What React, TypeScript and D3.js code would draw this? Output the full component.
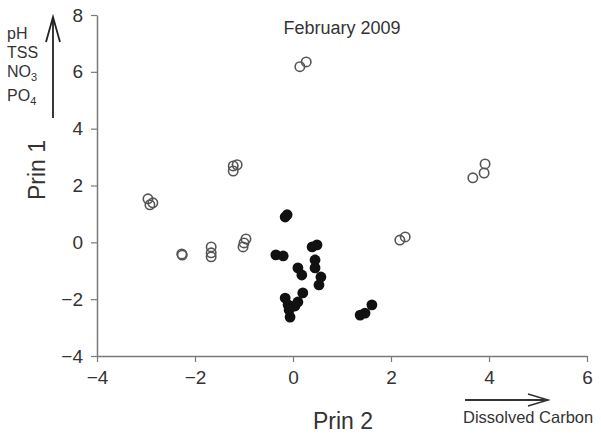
import React, { useEffect, useRef } from 'react';
import * as d3 from 'd3';

// Open circles (Prin 2, Prin 1)
const openX = [0.14, 0.27, -1.22, -1.14, -1.22, -2.96, -2.86, -2.92, -2.27, -2.26, -1.67, -1.67, -1.67, -0.96, -1.02, -1.0, 2.18, 2.29, 3.67, 3.9, 3.92];
const openY = [6.18, 6.35, 2.69, 2.73, 2.51, 1.53, 1.39, 1.32, -0.41, -0.45, -0.16, -0.37, -0.51, 0.12, -0.16, -0.02, 0.08, 0.19, 2.27, 2.44, 2.76];

// Filled circles (Prin 2, Prin 1)
const filledX = [-0.16, -0.12, -0.35, -0.2, 0.39, 0.49, 0.45, 0.45, 0.57, 0.53, 0.1, 0.18, 0.2, -0.16, 0.04, 0.1, -0.1, -0.08, -0.06, 1.61, 1.47, 1.37];
const filledY = [0.89, 0.97, -0.44, -0.48, -0.16, -0.09, -0.62, -0.9, -1.22, -1.5, -0.9, -1.15, -1.78, -1.96, -2.24, -2.1, -2.2, -2.38, -2.63, -2.2, -2.49, -2.56];

const xTicks = [-4, -2, 0, 2, 4, 6];
const yTicks = [-4, -2, 0, 2, 4, 6, 8];

const App = () => {
  const chartRef = useRef<HTMLDivElement>(null);

  useEffect(() => {
    const width = 601;
    const height = 434;
    const margin = { top: 15, right: 14, bottom: 78, left: 97 };
    const font = 'Liberation Sans, Arial, sans-serif';

    const root = d3.select(chartRef.current);
    root.selectAll('*').remove();

    const svg = root
      .append('svg')
      .attr('width', width)
      .attr('height', height)
      .style('display', 'block')
      .style('font-family', font);

    // Scales
    const x = d3.scaleLinear().domain([-4, 6]).range([margin.left, width - margin.right]);
    const y = d3.scaleLinear().domain([-4, 8]).range([height - margin.bottom, margin.top]);

    const axisColor = '#7a7a7a';

    // X axis
    const xAxis = svg.append('g')
      .attr('transform', `translate(0,${y(-4)})`)
      .call(d3.axisBottom(x).tickValues(xTicks).tickSizeInner(6).tickSizeOuter(0).tickPadding(9).tickFormat(d3.format('d')));

    // Y axis
    const yAxis = svg.append('g')
      .attr('transform', `translate(${x(-4)},0)`)
      .call(d3.axisLeft(y).tickValues(yTicks).tickSizeInner(6).tickSizeOuter(0).tickPadding(8).tickFormat(d3.format('d')));

    [xAxis, yAxis].forEach(g => {
      g.select('.domain').attr('stroke', axisColor).attr('stroke-width', 1.5);
      g.selectAll('.tick line').attr('stroke', axisColor).attr('stroke-width', 1.2);
      g.selectAll('.tick text')
        .attr('fill', '#333')
        .style('font-size', '19px')
        .style('font-family', font);
    });

    // Points
    svg.append('g')
      .selectAll('circle')
      .data(openX.map((d, i) => [d, openY[i]]))
      .enter()
      .append('circle')
      .attr('cx', d => x(d[0]))
      .attr('cy', d => y(d[1]))
      .attr('r', 4.7)
      .attr('fill', 'none')
      .attr('stroke', '#555')
      .attr('stroke-width', 1.6);

    svg.append('g')
      .selectAll('circle')
      .data(filledX.map((d, i) => [d, filledY[i]]))
      .enter()
      .append('circle')
      .attr('cx', d => x(d[0]))
      .attr('cy', d => y(d[1]))
      .attr('r', 5.4)
      .attr('fill', '#111');

    // Title
    svg.append('text')
      .attr('x', 342)
      .attr('y', 34)
      .attr('text-anchor', 'middle')
      .attr('fill', '#333')
      .style('font-size', '18px')
      .text('February 2009');

    // Axis titles
    svg.append('text')
      .attr('x', 343)
      .attr('y', 429)
      .attr('text-anchor', 'middle')
      .attr('fill', '#333')
      .style('font-size', '23px')
      .text('Prin 2');

    svg.append('text')
      .attr('transform', 'translate(45,170) rotate(-90)')
      .attr('text-anchor', 'middle')
      .attr('fill', '#333')
      .style('font-size', '23px')
      .text('Prin 1');

    // Variable labels on the left
    const labels = svg.append('g').attr('fill', '#333').style('font-size', '16px');
    labels.append('text').attr('x', 7).attr('y', 39).text('pH');
    labels.append('text').attr('x', 7).attr('y', 58).text('TSS');
    const no3 = labels.append('text').attr('x', 7).attr('y', 77);
    no3.append('tspan').text('NO');
    no3.append('tspan').attr('dy', 4).style('font-size', '11px').text('3');
    const po4 = labels.append('text').attr('x', 7).attr('y', 101);
    po4.append('tspan').text('PO');
    po4.append('tspan').attr('dy', 4).style('font-size', '11px').text('4');

    // Up arrow
    svg.append('line')
      .attr('x1', 53).attr('y1', 118).attr('x2', 53).attr('y2', 17)
      .attr('stroke', '#222').attr('stroke-width', 1.8);
    svg.append('path')
      .attr('d', 'M46,42 L53,17 L60,42')
      .attr('fill', 'none').attr('stroke', '#222').attr('stroke-width', 1.8);

    // Right arrow + label
    svg.append('line')
      .attr('x1', 465).attr('y1', 400).attr('x2', 548).attr('y2', 400)
      .attr('stroke', '#333').attr('stroke-width', 1.8);
    svg.append('path')
      .attr('d', 'M528,394 L548,400 L528,406')
      .attr('fill', 'none').attr('stroke', '#333').attr('stroke-width', 1.6);
    svg.append('text')
      .attr('x', 463)
      .attr('y', 423)
      .attr('fill', '#333')
      .style('font-size', '16.5px')
      .text('Dissolved Carbon');
  }, []);

  return <div ref={chartRef} style={{ position: 'absolute', left: 0, top: 0 }}></div>;
};

export default App;
